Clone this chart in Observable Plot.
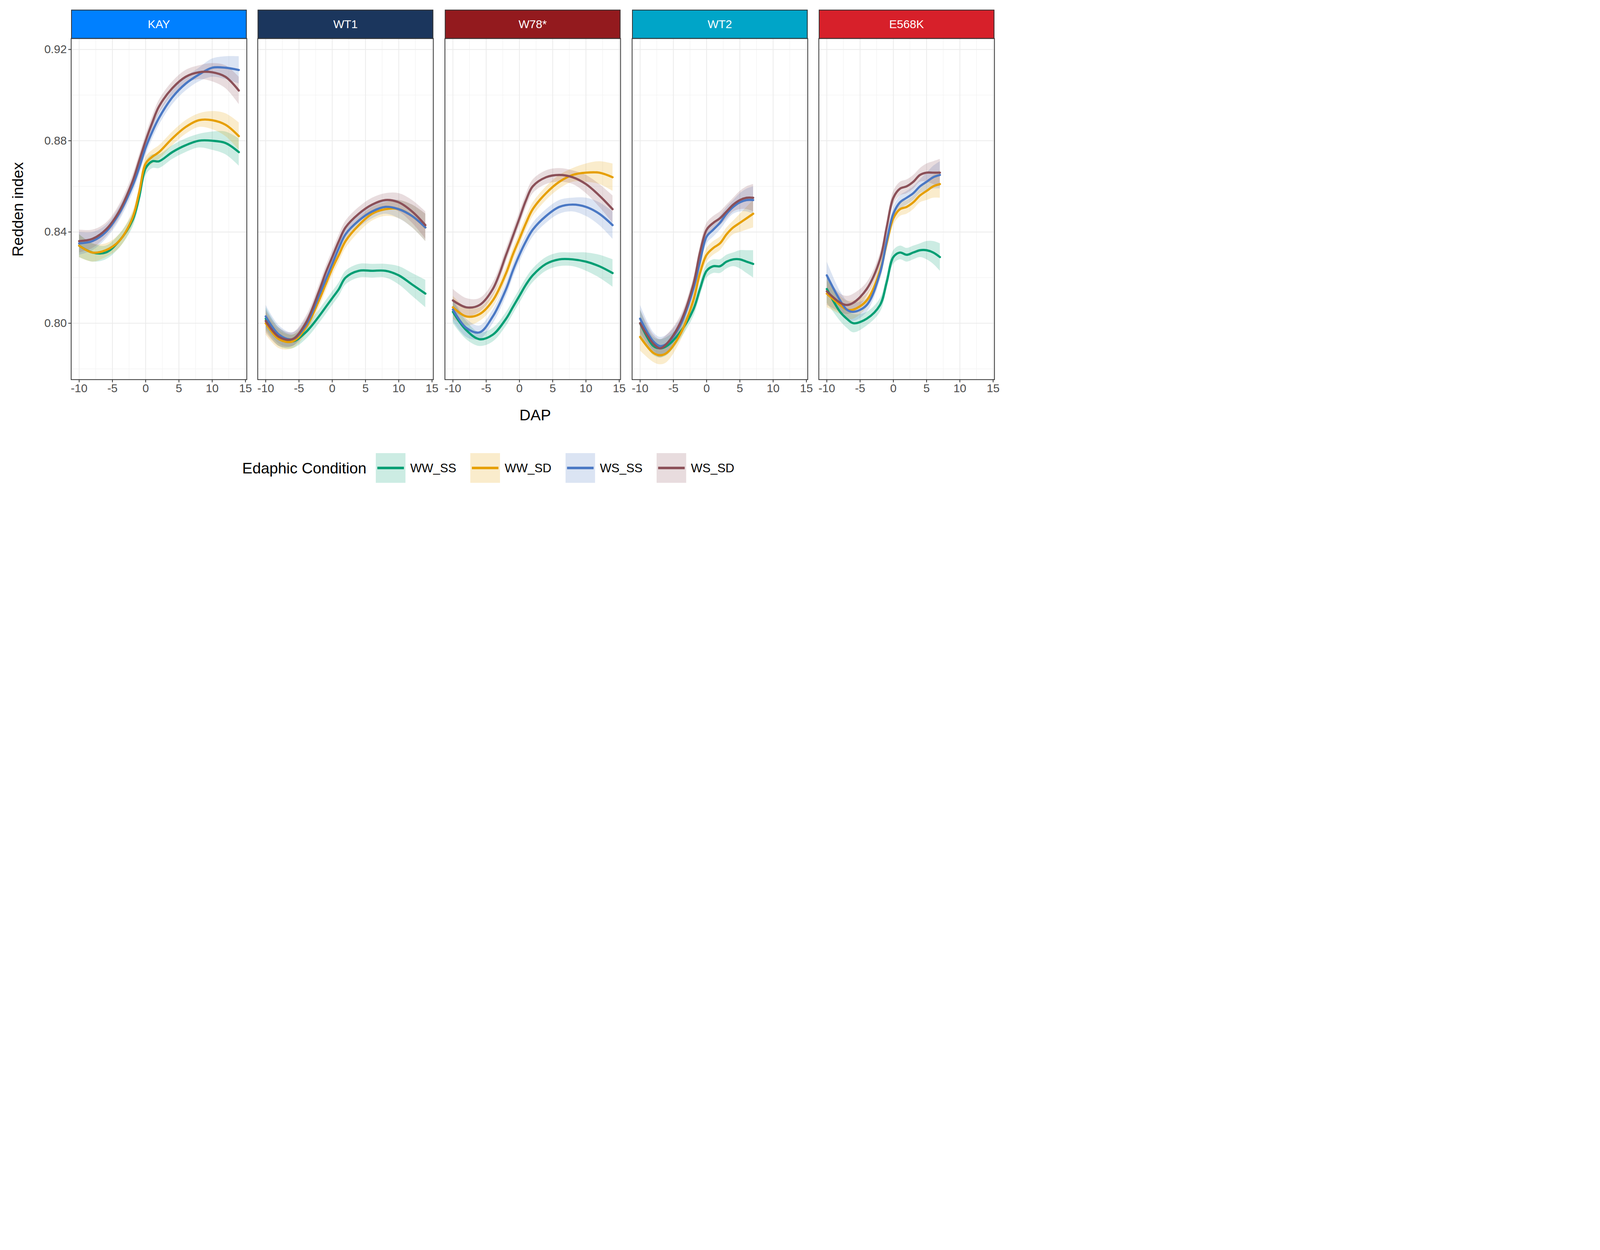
<!DOCTYPE html>
<html><head><meta charset="utf-8">
<script src="https://cdn.jsdelivr.net/npm/d3@7"></script>
<script src="https://cdn.jsdelivr.net/npm/@observablehq/plot@0.6"></script>
<style>
body{margin:0;background:#fff;font-family:"Liberation Sans",Arial,sans-serif;overflow:hidden}
#root{position:relative;width:6400px;height:3200px;background:#fff;transform:scale(0.4);transform-origin:0 0}
.strip{position:absolute;box-sizing:border-box;border:5px solid #333;color:#fff;font-size:74px;display:flex;align-items:center;justify-content:center}
.abs{position:absolute}
</style></head><body><div id="root"></div>
<script>
const panels = ["KAY","WT1","W78*","WT2","E568K"];
const stripColors = ["#0080FF","#1B365D","#931A1E","#00A5C8","#D7202A"];
const conditions = ["WW_SS","WW_SD","WS_SS","WS_SD"];
const condColors = ["#009E73","#E69F00","#4A78C4","#8B5058"];
const xLong = [-10,-8,-6,-4,-2,-1,0,1,2,4,6,8,10,12,14];
const xShort = [-10,-8,-7,-6,-4,-2,-1,0,1,2,3,4,5,6,7];
const seLong = [.005,.004,.003,.003,.003,.003,.003,.003,.003,.003,.003,.003,.004,.005,.006];
const seShort = [.006,.004,.004,.004,.003,.003,.003,.003,.003,.003,.003,.003,.004,.005,.006];
const KAY = [
 [.834,.831,.831,.836,.845,.855,.868,.871,.871,.875,.878,.880,.880,.879,.875],
 [.834,.831,.832,.836,.846,.857,.870,.873,.875,.881,.886,.889,.889,.887,.882],
 [.835,.836,.840,.848,.860,.868,.877,.884,.890,.899,.905,.909,.912,.912,.911],
 [.836,.837,.841,.849,.862,.871,.880,.888,.895,.903,.908,.910,.910,.908,.902]];
const WT1 = [
 [.802,.794,.792,.796,.803,.807,.811,.815,.820,.823,.823,.823,.821,.817,.813],
 [.800,.793,.792,.798,.810,.817,.824,.830,.836,.843,.848,.850,.850,.847,.842],
 [.803,.795,.793,.799,.812,.819,.826,.833,.839,.845,.849,.851,.850,.847,.842],
 [.801,.794,.793,.800,.814,.822,.829,.836,.842,.848,.852,.854,.853,.849,.843]];
const W78 = [
 [.805,.797,.793,.795,.802,.807,.812,.817,.821,.826,.828,.828,.827,.825,.822],
 [.807,.803,.804,.810,.822,.830,.837,.844,.850,.857,.862,.865,.866,.866,.864],
 [.806,.798,.796,.803,.815,.823,.830,.836,.841,.847,.851,.852,.851,.848,.843],
 [.810,.807,.808,.815,.830,.838,.846,.854,.860,.864,.865,.864,.861,.856,.850]];
const WT2 = [
 [.800,.790,.789,.790,.796,.806,.815,.823,.825,.825,.827,.828,.828,.827,.826],
 [.794,.787,.786,.787,.795,.810,.822,.830,.833,.835,.839,.842,.844,.846,.848],
 [.802,.792,.790,.791,.799,.815,.827,.838,.841,.844,.848,.851,.853,.854,.854],
 [.800,.791,.789,.791,.800,.817,.831,.841,.844,.846,.849,.852,.854,.855,.855]];
const E568K = [
 [.815,.805,.802,.800,.802,.808,.818,.829,.831,.830,.831,.832,.832,.831,.829],
 [.813,.808,.806,.806,.810,.823,.835,.846,.850,.851,.853,.856,.858,.860,.861],
 [.821,.810,.806,.805,.808,.822,.836,.848,.853,.855,.857,.860,.862,.864,.865],
 [.814,.809,.808,.809,.815,.828,.842,.855,.859,.860,.862,.865,.866,.866,.866]];
const panelData = [KAY,WT1,W78,WT2,E568K];
const panelX = [xLong,xLong,xLong,xShort,xShort];
const panelSe = [seLong,seLong,seLong,seShort,seShort];
const xTicks = [-10,-5,0,5,10,15];
const xMinor = [-7.5,-2.5,2.5,7.5,12.5];
const yTicks = [0.80,0.84,0.88,0.92];
const yMinor = [0.78,0.82,0.86,0.90];

const root = document.getElementById("root");
const pL=[455,1649,2847,4045,5240], pW=1124, pTop=246, pH=2183, mX=70;
panels.forEach((name,i)=>{
  const rows=[];
  panelData[i].forEach((ser,c)=>ser.forEach((y,k)=>rows.push({cond:conditions[c],x:panelX[i][k],y,lo:y-panelSe[i][k],hi:y+panelSe[i][k]})));
  const ml = i===0 ? 220 : mX;
  const svg = Plot.plot({
    width:pW+ml+mX, height:pH+140, marginLeft:ml, marginRight:mX, marginTop:0, marginBottom:140,
    style:{fontFamily:"Liberation Sans, Arial, sans-serif",fontSize:"74px",color:"#4d4d4d",background:"transparent",overflow:"visible"},
    x:{domain:[-11.2,15.2],axis:null},
    y:{domain:[0.7753,0.9248],axis:null},
    color:{domain:conditions,range:condColors},
    marks:[
      Plot.ruleX(xMinor,{stroke:"#f2f2f2",strokeWidth:3}),
      Plot.ruleY(yMinor,{stroke:"#f2f2f2",strokeWidth:3}),
      Plot.ruleX(xTicks,{stroke:"#ebebeb",strokeWidth:5}),
      Plot.ruleY(yTicks,{stroke:"#ebebeb",strokeWidth:5}),
      Plot.areaY(rows,{x:"x",y1:"lo",y2:"hi",z:"cond",fill:"cond",fillOpacity:0.2,curve:"catmull-rom"}),
      Plot.line(rows,{x:"x",y:"y",z:"cond",stroke:"cond",strokeWidth:14,curve:"catmull-rom"}),
      Plot.axisX({ticks:xTicks,tickFormat:d=>String(d),tickSize:18,tickPadding:10,stroke:"#333",strokeWidth:5,fill:"#4d4d4d",label:null}),
      i===0 ? Plot.axisY({ticks:yTicks,tickFormat:d=>d.toFixed(2),tickSize:18,tickPadding:10,stroke:"#333",strokeWidth:5,fill:"#4d4d4d",label:null}) : null,
      Plot.frame({stroke:"#333",strokeWidth:5})
    ]
  });
  svg.style.position="absolute"; svg.style.left=(pL[i]-ml)+"px"; svg.style.top=pTop+"px"; svg.style.overflow="visible";
  root.appendChild(svg);
  const s=document.createElement("div"); s.className="strip"; s.textContent=name;
  Object.assign(s.style,{left:pL[i]+"px",top:"62px",width:pW+"px",height:"186px",background:stripColors[i]});
  root.appendChild(s);
});
const t=document.createElement("div"); t.className="abs"; t.textContent="DAP";
Object.assign(t.style,{left:"0",width:"6400px",textAlign:"center",paddingLeft:"450px",boxSizing:"border-box",top:"2600px",fontSize:"98px",color:"#000"});
root.appendChild(t);
const yt=document.createElement("div"); yt.className="abs"; yt.textContent="Redden index";
Object.assign(yt.style,{left:"115px",top:"1340px",fontSize:"98px",transform:"translate(-50%,-50%) rotate(-90deg)",whiteSpace:"nowrap"});
root.appendChild(yt);
const lg=document.createElement("div"); lg.className="abs";
Object.assign(lg.style,{left:"1550px",top:"2900px",display:"flex",alignItems:"center",fontSize:"98px",gap:"0"});
let html='<span style="margin-right:60px">Edaphic Condition</span>';
conditions.forEach((c,i)=>{
  html+=`<svg width="190" height="190" style="margin-right:30px"><rect width="190" height="190" fill="${condColors[i]}" fill-opacity="0.2"/><line x1="10" x2="180" y1="95" y2="95" stroke="${condColors[i]}" stroke-width="16"/></svg><span style="font-size:78px;margin-right:90px;color:#000">${c}</span>`;
});
lg.innerHTML=html; root.appendChild(lg);
</script></body></html>
